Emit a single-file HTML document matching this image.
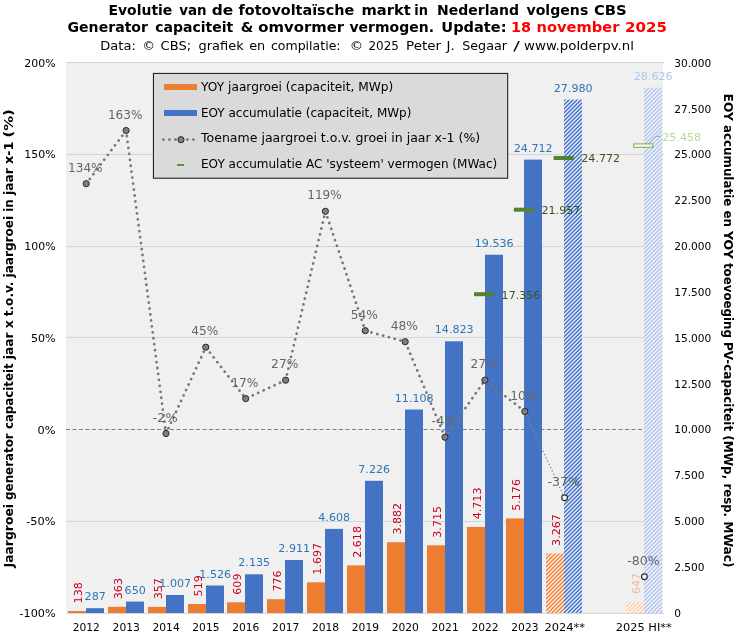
<!DOCTYPE html>
<html lang="nl"><head><meta charset="utf-8"><title>Evolutie van de fotovoltaïsche markt in Nederland volgens CBS</title>
<style>html,body{margin:0;padding:0;background:#fff;}body{width:746px;height:643px;overflow:hidden;}svg{display:block;}text{font-family:'DejaVu Sans','Liberation Sans',sans-serif;}</style>
</head><body>
<svg width="746" height="643" viewBox="0 0 746 643">
<defs>
<pattern id="hb" width="4" height="4" patternUnits="userSpaceOnUse" patternTransform="translate(0 0.8)"><rect width="4" height="4" fill="#fff"/><path d="M-1 1L1 -1M-1 5L5 -1M3 5L5 3" stroke="#2f60c2" stroke-width="1.45"/></pattern>
<pattern id="ho" width="4" height="4" patternUnits="userSpaceOnUse" patternTransform="translate(0 0.8)"><rect width="4" height="4" fill="#fff"/><path d="M-1 1L1 -1M-1 5L5 -1M3 5L5 3" stroke="#ee7424" stroke-width="1.45"/></pattern>
<pattern id="hbl" width="4" height="4" patternUnits="userSpaceOnUse" patternTransform="translate(0 0.8)"><rect width="4" height="4" fill="#fff"/><path d="M-1 1L1 -1M-1 5L5 -1M3 5L5 3" stroke="#a5bbe6" stroke-width="1.45"/></pattern>
<pattern id="hol" width="4" height="4" patternUnits="userSpaceOnUse" patternTransform="translate(0 0.8)"><rect width="4" height="4" fill="#fff"/><path d="M-1 1L1 -1M-1 5L5 -1M3 5L5 3" stroke="#f8c8a4" stroke-width="1.45"/></pattern>
</defs>
<rect width="746" height="643" fill="#fff"/>
<text y="14.7" font-size="13.6" font-weight="bold" fill="#000"><tspan x="108.5" textLength="63.8" lengthAdjust="spacingAndGlyphs">Evolutie</tspan> <tspan x="179.3" textLength="27.4" lengthAdjust="spacingAndGlyphs">van</tspan> <tspan x="211.7" textLength="21.5" lengthAdjust="spacingAndGlyphs">de</tspan> <tspan x="238.5" textLength="115.7" lengthAdjust="spacingAndGlyphs">fotovoltaïsche</tspan> <tspan x="361.5" textLength="49.3" lengthAdjust="spacingAndGlyphs">markt</tspan> <tspan x="414.2" textLength="13.7" lengthAdjust="spacingAndGlyphs">in</tspan> <tspan x="436.9" textLength="82.1" lengthAdjust="spacingAndGlyphs">Nederland</tspan> <tspan x="526.5" textLength="61.8" lengthAdjust="spacingAndGlyphs">volgens</tspan> <tspan x="593.9" textLength="32.8" lengthAdjust="spacingAndGlyphs">CBS</tspan></text>
<text y="31.6" font-size="13.6" font-weight="bold" fill="#000"><tspan x="67.5" textLength="80.5" lengthAdjust="spacingAndGlyphs">Generator</tspan> <tspan x="155.2" textLength="78.1" lengthAdjust="spacingAndGlyphs">capaciteit</tspan> <tspan x="240.7" textLength="12.5" lengthAdjust="spacingAndGlyphs">&amp;</tspan> <tspan x="258.3" textLength="85.8" lengthAdjust="spacingAndGlyphs">omvormer</tspan> <tspan x="349.5" textLength="84.5" lengthAdjust="spacingAndGlyphs">vermogen.</tspan> <tspan x="441.3" textLength="65.2" lengthAdjust="spacingAndGlyphs">Update:</tspan> <tspan x="510.9" textLength="20.1" lengthAdjust="spacingAndGlyphs" fill="#ff0000">18</tspan> <tspan x="536.6" textLength="82.8" lengthAdjust="spacingAndGlyphs" fill="#ff0000">november</tspan> <tspan x="625.1" textLength="41.8" lengthAdjust="spacingAndGlyphs" fill="#ff0000">2025</tspan></text>
<text y="49.6" font-size="12.8" fill="#000"><tspan x="100.3" textLength="35.6" lengthAdjust="spacingAndGlyphs">Data:</tspan> <tspan x="142.5" textLength="12.5" lengthAdjust="spacingAndGlyphs">©</tspan> <tspan x="160.6" textLength="30.6" lengthAdjust="spacingAndGlyphs">CBS;</tspan> <tspan x="198.5" textLength="45.3" lengthAdjust="spacingAndGlyphs">grafiek</tspan> <tspan x="249.2" textLength="16.1" lengthAdjust="spacingAndGlyphs">en</tspan> <tspan x="270.9" textLength="69.7" lengthAdjust="spacingAndGlyphs">compilatie:</tspan> <tspan x="349.7" textLength="13.4" lengthAdjust="spacingAndGlyphs">©</tspan> <tspan x="368.4" textLength="30.5" lengthAdjust="spacingAndGlyphs">2025</tspan> <tspan x="406.0" textLength="35.1" lengthAdjust="spacingAndGlyphs">Peter</tspan> <tspan x="446.6" textLength="8.2" lengthAdjust="spacingAndGlyphs">J.</tspan> <tspan x="462.2" textLength="44.8" lengthAdjust="spacingAndGlyphs">Segaar</tspan> <tspan x="513.2" textLength="6.6" lengthAdjust="spacingAndGlyphs">/</tspan> <tspan x="524.1" textLength="109.8" lengthAdjust="spacingAndGlyphs">www.polderpv.nl</tspan></text>
<rect x="66" y="62" width="597" height="551.5" fill="#f0f0f0"/>
<line x1="66" y1="62.5" x2="664" y2="62.5" stroke="#d4d4d4" stroke-width="1"/>
<line x1="66" y1="154.5" x2="664" y2="154.5" stroke="#d4d4d4" stroke-width="1"/>
<line x1="66" y1="246.5" x2="664" y2="246.5" stroke="#d4d4d4" stroke-width="1"/>
<line x1="66" y1="337.5" x2="664" y2="337.5" stroke="#d4d4d4" stroke-width="1"/>
<line x1="66" y1="429.5" x2="664" y2="429.5" stroke="#7f7f7f" stroke-width="1" stroke-dasharray="4 2.5"/>
<line x1="66" y1="521.5" x2="664" y2="521.5" stroke="#d4d4d4" stroke-width="1"/>
<line x1="66" y1="613.5" x2="664" y2="613.5" stroke="#d4d4d4" stroke-width="1"/>
<text x="55.6" y="66.8" font-size="10.6" text-anchor="end" fill="#000" textLength="31.3" lengthAdjust="spacingAndGlyphs">200%</text>
<text x="55.6" y="158.0" font-size="10.6" text-anchor="end" fill="#000" textLength="31.3" lengthAdjust="spacingAndGlyphs">150%</text>
<text x="55.6" y="249.9" font-size="10.6" text-anchor="end" fill="#000" textLength="31.3" lengthAdjust="spacingAndGlyphs">100%</text>
<text x="55.6" y="341.7" font-size="10.6" text-anchor="end" fill="#000" textLength="24.7" lengthAdjust="spacingAndGlyphs">50%</text>
<text x="55.6" y="433.5" font-size="10.6" text-anchor="end" fill="#000" textLength="18.0" lengthAdjust="spacingAndGlyphs">0%</text>
<text x="55.6" y="525.4" font-size="10.6" text-anchor="end" fill="#000" textLength="29.4" lengthAdjust="spacingAndGlyphs">-50%</text>
<text x="55.6" y="617.2" font-size="10.6" text-anchor="end" fill="#000" textLength="36.1" lengthAdjust="spacingAndGlyphs">-100%</text>
<text x="674.2" y="617.1" font-size="10.6" fill="#000">0</text>
<text x="674.2" y="571.2" font-size="10.6" fill="#000">2.500</text>
<text x="674.2" y="525.3" font-size="10.6" fill="#000">5.000</text>
<text x="674.2" y="479.4" font-size="10.6" fill="#000">7.500</text>
<text x="674.2" y="433.4" font-size="10.6" fill="#000">10.000</text>
<text x="674.2" y="387.5" font-size="10.6" fill="#000">12.500</text>
<text x="674.2" y="341.6" font-size="10.6" fill="#000">15.000</text>
<text x="674.2" y="295.7" font-size="10.6" fill="#000">17.500</text>
<text x="674.2" y="249.8" font-size="10.6" fill="#000">20.000</text>
<text x="674.2" y="203.8" font-size="10.6" fill="#000">22.500</text>
<text x="674.2" y="157.9" font-size="10.6" fill="#000">25.000</text>
<text x="674.2" y="112.6" font-size="10.6" fill="#000">27.500</text>
<text x="674.2" y="66.7" font-size="10.6" fill="#000">30.000</text>
<text x="86.3" y="630.9" font-size="10.7" text-anchor="middle" fill="#000">2012</text>
<text x="126.2" y="630.9" font-size="10.7" text-anchor="middle" fill="#000">2013</text>
<text x="166.1" y="630.9" font-size="10.7" text-anchor="middle" fill="#000">2014</text>
<text x="205.9" y="630.9" font-size="10.7" text-anchor="middle" fill="#000">2015</text>
<text x="245.8" y="630.9" font-size="10.7" text-anchor="middle" fill="#000">2016</text>
<text x="285.7" y="630.9" font-size="10.7" text-anchor="middle" fill="#000">2017</text>
<text x="325.5" y="630.9" font-size="10.7" text-anchor="middle" fill="#000">2018</text>
<text x="365.4" y="630.9" font-size="10.7" text-anchor="middle" fill="#000">2019</text>
<text x="405.3" y="630.9" font-size="10.7" text-anchor="middle" fill="#000">2020</text>
<text x="445.1" y="630.9" font-size="10.7" text-anchor="middle" fill="#000">2021</text>
<text x="485.0" y="630.9" font-size="10.7" text-anchor="middle" fill="#000">2022</text>
<text x="524.9" y="630.9" font-size="10.7" text-anchor="middle" fill="#000">2023</text>
<text x="564.7" y="630.9" font-size="10.7" text-anchor="middle" fill="#000" textLength="40.5" lengthAdjust="spacingAndGlyphs">2024**</text>
<text x="643.7" y="630.9" font-size="10.7" text-anchor="middle" fill="#000" textLength="56" lengthAdjust="spacingAndGlyphs">2025 HI**</text>
<rect x="68" y="611.0" width="18" height="2.0" fill="#ed7d31"/>
<rect x="86" y="608.2" width="18" height="4.8" fill="#4472c4"/>
<rect x="108" y="606.8" width="18" height="6.2" fill="#ed7d31"/>
<rect x="126" y="601.6" width="18" height="11.4" fill="#4472c4"/>
<rect x="148" y="606.9" width="18" height="6.1" fill="#ed7d31"/>
<rect x="166" y="595.0" width="18" height="18.0" fill="#4472c4"/>
<rect x="188" y="604.0" width="18" height="9.0" fill="#ed7d31"/>
<rect x="206" y="585.5" width="18" height="27.5" fill="#4472c4"/>
<rect x="227" y="602.3" width="18" height="10.7" fill="#ed7d31"/>
<rect x="245" y="574.3" width="18" height="38.7" fill="#4472c4"/>
<rect x="267" y="599.2" width="18" height="13.8" fill="#ed7d31"/>
<rect x="285" y="560.0" width="18" height="53.0" fill="#4472c4"/>
<rect x="307" y="582.3" width="18" height="30.7" fill="#ed7d31"/>
<rect x="325" y="528.9" width="18" height="84.1" fill="#4472c4"/>
<rect x="347" y="565.4" width="18" height="47.6" fill="#ed7d31"/>
<rect x="365" y="480.8" width="18" height="132.2" fill="#4472c4"/>
<rect x="387" y="542.2" width="18" height="70.8" fill="#ed7d31"/>
<rect x="405" y="409.5" width="18" height="203.5" fill="#4472c4"/>
<rect x="427" y="545.3" width="18" height="67.7" fill="#ed7d31"/>
<rect x="445" y="341.3" width="18" height="271.7" fill="#4472c4"/>
<rect x="467" y="526.9" width="18" height="86.1" fill="#ed7d31"/>
<rect x="485" y="254.7" width="18" height="358.3" fill="#4472c4"/>
<rect x="506" y="518.4" width="18" height="94.6" fill="#ed7d31"/>
<rect x="524" y="159.6" width="18" height="453.4" fill="#4472c4"/>
<rect x="546" y="553.5" width="18" height="59.5" fill="url(#ho)"/>
<rect x="564" y="99.6" width="18" height="513.4" fill="url(#hb)"/>
<rect x="626" y="601.6" width="18" height="11.4" fill="url(#hol)"/>
<rect x="644" y="87.7" width="18" height="525.3" fill="url(#hbl)"/>
<line x1="66" y1="613.5" x2="664" y2="613.5" stroke="#d6d6d6" stroke-width="1"/>
<text x="95.2" y="600.2" font-size="11.1" text-anchor="middle" fill="#2e75b6">287</text>
<text transform="translate(81.5 603.4) rotate(-90)" font-size="11.1" fill="#c8001e">138</text>
<text x="135.2" y="593.6" font-size="11.1" text-anchor="middle" fill="#2e75b6">650</text>
<text transform="translate(121.5 599.2) rotate(-90)" font-size="11.1" fill="#c8001e">363</text>
<text x="175.2" y="587.0" font-size="11.1" text-anchor="middle" fill="#2e75b6">1.007</text>
<text transform="translate(161.5 599.3) rotate(-90)" font-size="11.1" fill="#c8001e">357</text>
<text x="215.2" y="577.5" font-size="11.1" text-anchor="middle" fill="#2e75b6">1.526</text>
<text transform="translate(201.5 596.4) rotate(-90)" font-size="11.1" fill="#c8001e">519</text>
<text x="254.2" y="566.3" font-size="11.1" text-anchor="middle" fill="#2e75b6">2.135</text>
<text transform="translate(240.5 594.7) rotate(-90)" font-size="11.1" fill="#c8001e">609</text>
<text x="294.2" y="552.0" font-size="11.1" text-anchor="middle" fill="#2e75b6">2.911</text>
<text transform="translate(280.5 591.6) rotate(-90)" font-size="11.1" fill="#c8001e">776</text>
<text x="334.2" y="520.9" font-size="11.1" text-anchor="middle" fill="#2e75b6">4.608</text>
<text transform="translate(320.5 574.7) rotate(-90)" font-size="11.1" fill="#c8001e">1.697</text>
<text x="374.2" y="472.8" font-size="11.1" text-anchor="middle" fill="#2e75b6">7.226</text>
<text transform="translate(360.5 557.8) rotate(-90)" font-size="11.1" fill="#c8001e">2.618</text>
<text x="414.2" y="401.5" font-size="11.1" text-anchor="middle" fill="#2e75b6">11.108</text>
<text transform="translate(400.5 534.6) rotate(-90)" font-size="11.1" fill="#c8001e">3.882</text>
<text x="454.2" y="333.3" font-size="11.1" text-anchor="middle" fill="#2e75b6">14.823</text>
<text transform="translate(440.5 537.7) rotate(-90)" font-size="11.1" fill="#c8001e">3.715</text>
<text x="494.2" y="246.7" font-size="11.1" text-anchor="middle" fill="#2e75b6">19.536</text>
<text transform="translate(480.5 519.3) rotate(-90)" font-size="11.1" fill="#c8001e">4.713</text>
<text x="533.2" y="151.6" font-size="11.1" text-anchor="middle" fill="#2e75b6">24.712</text>
<text transform="translate(519.5 510.8) rotate(-90)" font-size="11.1" fill="#c8001e">5.176</text>
<text x="573.2" y="91.6" font-size="11.1" text-anchor="middle" fill="#2e75b6">27.980</text>
<text transform="translate(559.5 545.9) rotate(-90)" font-size="11.1" fill="#c8001e">3.267</text>
<text x="653.2" y="79.7" font-size="11.1" text-anchor="middle" fill="#a9c9ea">28.626</text>
<text transform="translate(639.5 594.0) rotate(-90)" font-size="11.1" fill="#f6b999">647</text>
<rect x="474.0" y="292.2" width="20" height="4" fill="#548235"/>
<text x="501.6" y="298.6" font-size="11.1" fill="#3b5323">17.356</text>
<rect x="513.9" y="207.7" width="20" height="4" fill="#548235"/>
<text x="541.5" y="214.1" font-size="11.1" fill="#3b5323">21.957</text>
<rect x="553.7" y="156.0" width="20" height="4" fill="#548235"/>
<text x="581.3" y="162.4" font-size="11.1" fill="#3b5323">24.772</text>
<rect x="633.8" y="143.9" width="19" height="3.4" fill="#f6faf0" stroke="#74b04a" stroke-width="1"/>
<polyline points="648,143.8 655.4,136.4 660,136.4" fill="none" stroke="#a6a6a6" stroke-width="1"/>
<text x="662.3" y="140.8" font-size="11.1" fill="#b7d89c">25.458</text>
<line x1="524.8" y1="411.5" x2="564.6" y2="497.8" stroke="#8a8a8a" stroke-width="1.3" stroke-dasharray="1.3 2.3"/>
<polyline points="86.2,183.7 126.1,130.5 166.0,433.5 205.8,347.2 245.7,398.6 285.6,380.2 325.4,211.3 365.3,330.7 405.2,341.7 445.0,437.2 484.9,380.2 524.8,411.5" fill="none" stroke="#777" stroke-width="2.7" stroke-dasharray="0.1 5.9" stroke-linecap="round" stroke-linejoin="round"/>
<circle cx="86.2" cy="183.7" r="3.1" fill="#7f7f7f" stroke="#2b2b2b" stroke-width="1"/>
<text x="85.3" y="171.8" font-size="11.6" text-anchor="middle" fill="#666" textLength="34.6" lengthAdjust="spacingAndGlyphs">134%</text>
<circle cx="126.1" cy="130.5" r="3.1" fill="#7f7f7f" stroke="#2b2b2b" stroke-width="1"/>
<text x="125.2" y="118.6" font-size="11.6" text-anchor="middle" fill="#666" textLength="34.6" lengthAdjust="spacingAndGlyphs">163%</text>
<circle cx="166.0" cy="433.5" r="3.1" fill="#7f7f7f" stroke="#2b2b2b" stroke-width="1"/>
<text x="165.1" y="421.6" font-size="11.6" text-anchor="middle" fill="#666" textLength="25.1" lengthAdjust="spacingAndGlyphs">-2%</text>
<circle cx="205.8" cy="347.2" r="3.1" fill="#7f7f7f" stroke="#2b2b2b" stroke-width="1"/>
<text x="204.9" y="335.3" font-size="11.6" text-anchor="middle" fill="#666" textLength="27.2" lengthAdjust="spacingAndGlyphs">45%</text>
<circle cx="245.7" cy="398.6" r="3.1" fill="#7f7f7f" stroke="#2b2b2b" stroke-width="1"/>
<text x="244.8" y="386.7" font-size="11.6" text-anchor="middle" fill="#666" textLength="27.2" lengthAdjust="spacingAndGlyphs">17%</text>
<circle cx="285.6" cy="380.2" r="3.1" fill="#7f7f7f" stroke="#2b2b2b" stroke-width="1"/>
<text x="284.7" y="368.3" font-size="11.6" text-anchor="middle" fill="#666" textLength="27.2" lengthAdjust="spacingAndGlyphs">27%</text>
<circle cx="325.4" cy="211.3" r="3.1" fill="#7f7f7f" stroke="#2b2b2b" stroke-width="1"/>
<text x="324.5" y="199.4" font-size="11.6" text-anchor="middle" fill="#666" textLength="34.6" lengthAdjust="spacingAndGlyphs">119%</text>
<circle cx="365.3" cy="330.7" r="3.1" fill="#7f7f7f" stroke="#2b2b2b" stroke-width="1"/>
<text x="364.4" y="318.8" font-size="11.6" text-anchor="middle" fill="#666" textLength="27.2" lengthAdjust="spacingAndGlyphs">54%</text>
<circle cx="405.2" cy="341.7" r="3.1" fill="#7f7f7f" stroke="#2b2b2b" stroke-width="1"/>
<text x="404.3" y="329.8" font-size="11.6" text-anchor="middle" fill="#666" textLength="27.2" lengthAdjust="spacingAndGlyphs">48%</text>
<circle cx="445.0" cy="437.2" r="3.1" fill="#7f7f7f" stroke="#2b2b2b" stroke-width="1"/>
<text x="444.1" y="425.3" font-size="11.6" text-anchor="middle" fill="#666" textLength="25.1" lengthAdjust="spacingAndGlyphs">-4%</text>
<circle cx="484.9" cy="380.2" r="3.1" fill="#7f7f7f" stroke="#2b2b2b" stroke-width="1"/>
<text x="484.0" y="368.3" font-size="11.6" text-anchor="middle" fill="#666" textLength="27.2" lengthAdjust="spacingAndGlyphs">27%</text>
<circle cx="524.8" cy="411.5" r="3.1" fill="#7f7f7f" stroke="#2b2b2b" stroke-width="1"/>
<text x="523.9" y="399.6" font-size="11.6" text-anchor="middle" fill="#666" textLength="27.2" lengthAdjust="spacingAndGlyphs">10%</text>
<circle cx="564.6" cy="497.8" r="2.9" fill="#f2f2f2" stroke="#2a2a2a" stroke-width="1.15"/>
<text x="563.7" y="485.9" font-size="11.6" text-anchor="middle" fill="#666" textLength="32.5" lengthAdjust="spacingAndGlyphs">-37%</text>
<circle cx="644.4" cy="576.8" r="2.9" fill="#f2f2f2" stroke="#2a2a2a" stroke-width="1.15"/>
<text x="643.5" y="564.9" font-size="11.6" text-anchor="middle" fill="#666" textLength="32.5" lengthAdjust="spacingAndGlyphs">-80%</text>
<rect x="153.4" y="73.4" width="354.3" height="104.8" fill="#dadada" stroke="#111" stroke-width="1"/>
<rect x="164" y="84" width="33" height="6" fill="#ed7d31"/>
<rect x="164" y="110" width="33" height="6" fill="#4472c4"/>
<line x1="163.4" y1="139.6" x2="194" y2="139.6" stroke="#777" stroke-width="2.7" stroke-dasharray="0.1 5.9" stroke-linecap="round"/>
<circle cx="181" cy="139.7" r="3.1" fill="#7f7f7f" stroke="#2b2b2b" stroke-width="1"/>
<rect x="177" y="164" width="7" height="2" fill="#5a9632"/>
<text x="201" y="90.8" font-size="12" fill="#000" textLength="192.3" lengthAdjust="spacingAndGlyphs">YOY jaargroei (capaciteit, MWp)</text>
<text x="201" y="116.5" font-size="12" fill="#000" textLength="210.4" lengthAdjust="spacingAndGlyphs">EOY accumulatie (capaciteit, MWp)</text>
<text x="201" y="142.4" font-size="12" fill="#000" textLength="279.2" lengthAdjust="spacingAndGlyphs">Toename jaargroei t.o.v. groei in jaar x-1 (%)</text>
<text x="201" y="168.4" font-size="12" fill="#000" textLength="296.2" lengthAdjust="spacingAndGlyphs">EOY accumulatie AC 'systeem' vermogen (MWac)</text>
<text transform="translate(12.8 567.4) rotate(-90)" font-size="12.2" font-weight="bold" fill="#000"><tspan x="0.0" textLength="63.4" lengthAdjust="spacingAndGlyphs">Jaargroei</tspan> <tspan x="67.5" textLength="66.6" lengthAdjust="spacingAndGlyphs">generator</tspan> <tspan x="138.3" textLength="65.7" lengthAdjust="spacingAndGlyphs">capaciteit</tspan> <tspan x="208.1" textLength="26.9" lengthAdjust="spacingAndGlyphs">jaar</tspan> <tspan x="239.1" textLength="8.0" lengthAdjust="spacingAndGlyphs">x</tspan> <tspan x="251.2" textLength="34.6" lengthAdjust="spacingAndGlyphs">t.o.v.</tspan> <tspan x="289.9" textLength="61.6" lengthAdjust="spacingAndGlyphs">jaargroei</tspan> <tspan x="355.6" textLength="12.7" lengthAdjust="spacingAndGlyphs">in</tspan> <tspan x="372.4" textLength="26.9" lengthAdjust="spacingAndGlyphs">jaar</tspan> <tspan x="403.4" textLength="22.4" lengthAdjust="spacingAndGlyphs">x-1</tspan> <tspan x="429.8" textLength="28.4" lengthAdjust="spacingAndGlyphs">(%)</tspan></text>
<text transform="translate(723.6 93.6) rotate(90)" font-size="12.2" font-weight="bold" fill="#000"><tspan x="0.0" textLength="27.2" lengthAdjust="spacingAndGlyphs">EOY</tspan> <tspan x="31.3" textLength="81.4" lengthAdjust="spacingAndGlyphs">accumulatie</tspan> <tspan x="116.8" textLength="16.5" lengthAdjust="spacingAndGlyphs">en</tspan> <tspan x="137.4" textLength="27.8" lengthAdjust="spacingAndGlyphs">YOY</tspan> <tspan x="169.3" textLength="75.0" lengthAdjust="spacingAndGlyphs">toevoeging</tspan> <tspan x="248.4" textLength="89.2" lengthAdjust="spacingAndGlyphs">PV-capaciteit</tspan> <tspan x="341.6" textLength="44.1" lengthAdjust="spacingAndGlyphs">(MWp,</tspan> <tspan x="389.8" textLength="33.7" lengthAdjust="spacingAndGlyphs">resp.</tspan> <tspan x="427.6" textLength="46.4" lengthAdjust="spacingAndGlyphs">MWac)</tspan></text>
</svg>
</body></html>
